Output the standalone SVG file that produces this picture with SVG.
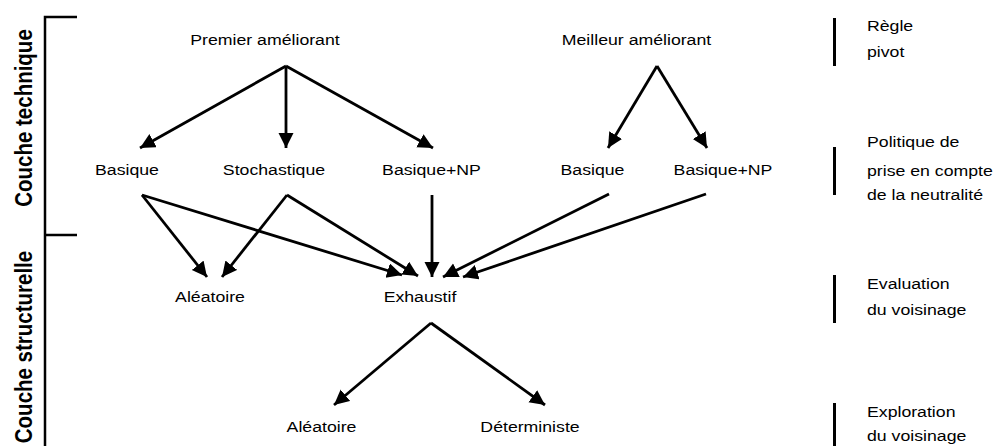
<svg xmlns="http://www.w3.org/2000/svg" width="995" height="446" viewBox="0 0 995 446">
<style>
.t{font-family:"Liberation Sans",Arial,sans-serif;font-size:15px;fill:#000}
.m{text-anchor:middle}
.layer{font-family:"Liberation Sans",Arial,sans-serif;font-size:20.5px;font-weight:bold;fill:#000;text-anchor:middle}
.c{stroke:#000;stroke-width:2.8;fill:none;marker-end:url(#ah)}
.br{stroke:#000;stroke-width:2.5;fill:none}
.bar{stroke:#000;stroke-width:3;fill:none}
</style>
<defs>
<marker id="ah" markerUnits="userSpaceOnUse" markerWidth="16" markerHeight="16" refX="15" refY="7.5" orient="auto" viewBox="0 0 16 16">
<path d="M0,0 L15,7.5 L0,15 z" fill="#000"/>
</marker>
</defs>
<rect width="995" height="446" fill="#fff"/>
<g id="layers">
<path class="br" d="M77,17 H45 V446 M45,235 H77"/>
<text class="layer" transform="translate(32,118) rotate(-90) scale(1,1.2)">Couche technique</text>
<text class="layer" transform="translate(32,347) rotate(-90) scale(1,1.2)">Couche structurelle</text>
</g>
<g id="connectors">
<line class="c" x1="286" y1="66" x2="140" y2="148"/>
<line class="c" x1="286" y1="66" x2="286" y2="148"/>
<line class="c" x1="286" y1="66" x2="433" y2="148"/>
<line class="c" x1="657" y1="66" x2="608" y2="148"/>
<line class="c" x1="657" y1="66" x2="707" y2="148"/>
<line class="c" x1="142" y1="195" x2="207" y2="277"/>
<line class="c" x1="142" y1="195" x2="402" y2="275"/>
<line class="c" x1="287" y1="195" x2="222" y2="277"/>
<line class="c" x1="287" y1="195" x2="418" y2="276"/>
<line class="c" x1="432" y1="195" x2="432" y2="277"/>
<line class="c" x1="609" y1="194" x2="443" y2="277"/>
<line class="c" x1="706" y1="194" x2="463" y2="277"/>
<line class="c" x1="431" y1="323" x2="334" y2="405"/>
<line class="c" x1="431" y1="323" x2="545" y2="405"/>
</g>
<g id="premier"><text class="t m" transform="translate(265,45) scale(1.18,1)">Premier améliorant</text></g>
<g id="meilleur"><text class="t m" transform="translate(636.5,45) scale(1.18,1)">Meilleur améliorant</text></g>
<g id="basique1"><text class="t m" transform="translate(127,175) scale(1.18,1)">Basique</text></g>
<g id="stochastique"><text class="t m" transform="translate(274,175) scale(1.18,1)">Stochastique</text></g>
<g id="basiqueNP1"><text class="t m" transform="translate(431.5,175) scale(1.18,1)">Basique+NP</text></g>
<g id="basique2"><text class="t m" transform="translate(592.5,175) scale(1.18,1)">Basique</text></g>
<g id="basiqueNP2"><text class="t m" transform="translate(723,175) scale(1.18,1)">Basique+NP</text></g>
<g id="aleatoire1"><text class="t m" transform="translate(210,302) scale(1.18,1)">Aléatoire</text></g>
<g id="exhaustif"><text class="t m" transform="translate(420,302) scale(1.18,1)">Exhaustif</text></g>
<g id="aleatoire2"><text class="t m" transform="translate(321.5,432) scale(1.18,1)">Aléatoire</text></g>
<g id="deterministe"><text class="t m" transform="translate(530,432) scale(1.18,1)">Déterministe</text></g>
<g id="legend">
<line class="bar" x1="834.5" y1="18" x2="834.5" y2="66"/>
<text class="t" transform="translate(867,31) scale(1.18,1)">Règle</text>
<text class="t" transform="translate(867,57) scale(1.18,1)">pivot</text>
<line class="bar" x1="834.5" y1="147" x2="834.5" y2="195"/>
<text class="t" transform="translate(867,147) scale(1.18,1)">Politique de</text>
<text class="t" transform="translate(867,176) scale(1.18,1)">prise en compte</text>
<text class="t" transform="translate(867,200) scale(1.18,1)">de la neutralité</text>
<line class="bar" x1="834.5" y1="275" x2="834.5" y2="323"/>
<text class="t" transform="translate(867,289) scale(1.18,1)">Evaluation</text>
<text class="t" transform="translate(867,315) scale(1.18,1)">du voisinage</text>
<line class="bar" x1="834.5" y1="403" x2="834.5" y2="446"/>
<text class="t" transform="translate(867,417) scale(1.18,1)">Exploration</text>
<text class="t" transform="translate(867,441) scale(1.18,1)">du voisinage</text>
</g>
</svg>
